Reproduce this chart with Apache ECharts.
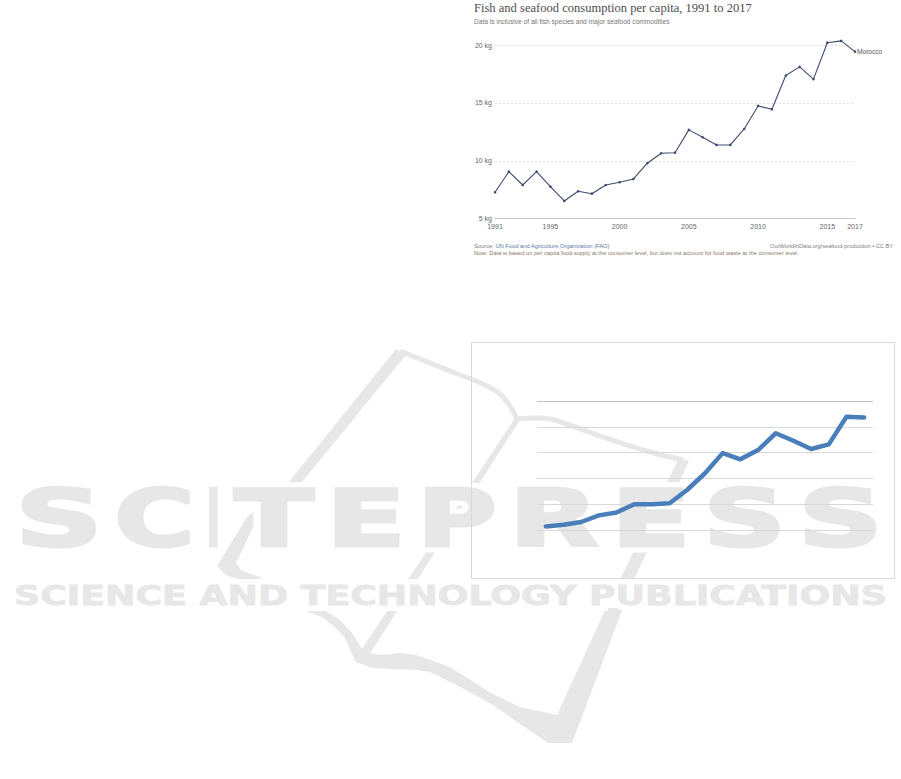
<!DOCTYPE html>
<html>
<head>
<meta charset="utf-8">
<script src="https://cdn.jsdelivr.net/npm/echarts@6/dist/echarts.min.js"></script>
<style>html,body{margin:0;padding:0;background:#fff}#c{width:901px;height:779px}</style>
</head>
<body>
<div id="c"></div>
<script>
// ---------- data: top chart (Our World in Data) ----------
const years = [1991,1992,1993,1994,1995,1996,1997,1998,1999,2000,2001,2002,2003,2004,2005,2006,2007,2008,2009,2010,2011,2012,2013,2014,2015,2016,2017];
const fishKg = [7.28,9.06,7.91,9.06,7.77,6.53,7.37,7.16,7.91,8.15,8.43,9.79,10.65,10.7,12.67,12.03,11.37,11.37,12.75,14.74,14.45,17.36,18.11,17.05,20.2,20.36,19.43];
const yTickKg = [5,10,15,20];
const xTickYears = [1991,1995,2000,2005,2010,2015,2017];
const countryName = 'Morocco';
const titleText = 'Fish and seafood consumption per capita, 1991 to 2017';
const subtitleText = 'Data is inclusive of all fish species and major seafood commodities';
const sourceLabel = 'Source: ';
const sourceText = 'UN Food and Agriculture Organization (FAO)';
const noteText = 'Note: Data is based on per capita food supply at the consumer level, but does not account for food waste at the consumer level.';
const urlText = 'OurWorldInData.org/seafood-production • CC BY';

// ---------- data: bottom chart (unlabelled spreadsheet chart) ----------
const sheetCats = ['1999','2000','2001','2002','2003','2004','2005','2006','2007','2008','2009','2010','2011','2012','2013','2014','2015','2016','2017'];
const sheetVals = [0.7,1.0,1.55,2.83,3.4,5.0,5.0,5.2,7.8,11.0,14.9,13.7,15.5,18.75,17.3,15.7,16.6,21.96,21.8];
const sheetTicks = [0,5,10,15,20,25];

// ---------- watermark text ----------
const wmWord = ['S','C','I','T','E','P','R','E','S','S'];
const wmSub = 'SCIENCE AND TECHNOLOGY PUBLICATIONS';

// ---------- helpers ----------
const mctx = document.createElement('canvas').getContext('2d');
function textW(t, font){ mctx.font = font; return mctx.measureText(t).width; }
function fitSize(t, family, weight, target){ return 100 * target / textW(t, weight + ' 100px ' + family); }

const SANS = '"Liberation Sans", Arial, sans-serif';
const SERIF = '"Liberation Serif", "Times New Roman", serif';
const titleSize = fitSize(titleText, SERIF, 'normal', 278);
const subSize = fitSize(subtitleText, SANS, 'normal', 196);
const srcSize = fitSize(sourceLabel + sourceText, SANS, 'normal', 136);
const noteSize = fitSize(noteText, SANS, 'normal', 325);
const urlSize = fitSize(urlText, SANS, 'normal', 123);

// ---------- watermark graphics ----------
const WM = '#e6e7e6';
const wm = [];
// logo strokes
wm.push({type:'polygon', z:-10, shape:{points:[[396,349],[406,355],[302,482],[258,517],[236,563],[242,571],[260,577],[262,580],[240,580],[226,575],[217,566],[247,517],[289,482]]}, style:{fill:WM}});
wm.push({type:'polyline', z:-10, shape:{points:[[400,351],[450,371],[483,384],[500,394],[510,406],[517,419]], smooth:0.3}, style:{stroke:WM, lineWidth:5, fill:null}});
wm.push({type:'polyline', z:-10, shape:{points:[[517,419],[550,419],[600,436],[650,452],[683,460]], smooth:0.3}, style:{stroke:WM, lineWidth:5, fill:null}});
wm.push({type:'polygon', z:-10, shape:{points:[[679,458],[689,461],[633,582],[619,582]]}, style:{fill:WM}});
wm.push({type:'polygon', z:-10, shape:{points:[[515,418],[520,420],[369,655],[360,652]]}, style:{fill:WM}});
wm.push({type:'polygon', z:-10, shape:{points:[[306,611],[326,611],[340,620],[352,633],[364,652],[380,655],[400,653],[416,655],[450,667],[491,693],[520,707],[557,715],[606,608],[623,608],[572,743],[548,743],[520,724],[491,704],[462,688],[430,672],[416,670],[395,669],[372,668],[356,662],[350,650],[345,638],[335,627],[322,617]]}, style:{fill:WM}});

// big letters
const wmPos = [[14,104],[113,196],[205,222],[233,315],[325,407],[416,498],[508,600],[610,692],[702,787],[797,884]];
const bigFont = 'bold 78px "DejaVu Sans"';
wmWord.forEach((ch, i) => {
  const [x0, x1] = wmPos[i];
  const sx = (x1 - x0 - 3) / textW(ch, bigFont);
  wm.push({type:'text', z:-9, x:x0 + 1.5, y:519, scaleX:sx, style:{text:ch, font:bigFont, fill:'#fff', stroke:'#fff', lineWidth:13, align:'left', verticalAlign:'middle'}});
  wm.push({type:'text', z:-8, x:x0 + 1.5, y:519, scaleX:sx, style:{text:ch, font:bigFont, fill:WM, stroke:WM, lineWidth:3.2, lineJoin:'miter', align:'left', verticalAlign:'middle'}});
});
// small line
const smallFont = 'bold 26px "DejaVu Sans"';
const ssx = (887 - 14) / textW(wmSub, smallFont);
wm.push({type:'text', z:-9, x:14, y:596, scaleX:ssx, style:{text:wmSub, font:smallFont, fill:'#fff', stroke:'#fff', lineWidth:12, align:'left', verticalAlign:'middle'}});
wm.push({type:'text', z:-8, x:14, y:596, scaleX:ssx, style:{text:wmSub, font:smallFont, fill:WM, stroke:WM, lineWidth:0.8, align:'left', verticalAlign:'middle'}});

// bottom chart frame
wm.push({type:'rect', z:1, shape:{x:471.5, y:342.5, width:423, height:236}, style:{fill:null, stroke:'#d9d9d9', lineWidth:1}});

const chart = echarts.init(document.getElementById('c'), null, {renderer:'svg'});
chart.setOption({
  animation: false,
  backgroundColor: '#fff',
  title: [
    {text: titleText, subtext: subtitleText, left: 474, top: 1, padding: 0, itemGap: 2.5,
     textStyle: {fontFamily: SERIF, fontWeight: 'normal', fontSize: titleSize, color: '#4d4d4d', lineHeight: 14},
     subtextStyle: {fontFamily: SANS, fontSize: subSize, color: '#777', lineHeight: 7}},
    {text: '{a|' + sourceLabel + '}{b|' + sourceText + '}', left: 474, top: 242.5, padding: 0,
     textStyle: {fontWeight: 'normal', rich: {
       a: {fontFamily: SANS, fontSize: srcSize, fontWeight: 'normal', color: '#808080', lineHeight: 7},
       b: {fontFamily: SANS, fontSize: srcSize, fontWeight: 'normal', color: '#5b7aa3', lineHeight: 7}}}},
    {text: noteText, left: 474, top: 249.8, padding: 0,
     textStyle: {fontFamily: SANS, fontSize: noteSize, fontWeight: 'normal', color: '#8a7868', lineHeight: 7}},
    {text: urlText, right: 8, top: 242.5, padding: 0,
     textStyle: {fontFamily: SANS, fontSize: urlSize, fontWeight: 'normal', color: '#808080', lineHeight: 7}}
  ],
  graphic: {elements: wm},
  grid: [
    {left: 495, right: 46, top: 45, height: 173.7, containLabel: false},
    {left: 537, right: 28, top: 401, height: 129, containLabel: false}
  ],
  xAxis: [
    {gridIndex: 0, type: 'value', min: years[0], max: years[years.length - 1],
     axisLine: {show: true, lineStyle: {color: '#c8c8c8', width: 1}},
     axisTick: {show: false},
     splitLine: {show: false},
     axisLabel: {customValues: xTickYears, formatter: v => String(v), fontFamily: SANS, fontSize: 7, color: '#666', margin: 4}},
    {gridIndex: 1, type: 'category', data: sheetCats, boundaryGap: true,
     axisLine: {show: false}, axisTick: {show: false}, axisLabel: {show: false}, splitLine: {show: false}}
  ],
  yAxis: [
    {gridIndex: 0, type: 'value', min: yTickKg[0], max: yTickKg[yTickKg.length - 1], interval: 5,
     axisLine: {show: false}, axisTick: {show: false},
     axisLabel: {formatter: v => v + ' kg', fontFamily: SANS, fontSize: 7, color: '#666', margin: 3},
     splitLine: {show: true, lineStyle: {color: '#d4d4d4', width: 0.8, type: [2, 2]}}},
    {gridIndex: 1, type: 'value', min: sheetTicks[0], max: sheetTicks[sheetTicks.length - 1], interval: 5,
     axisLine: {show: false}, axisTick: {show: false}, axisLabel: {show: false},
     splitLine: {show: true, lineStyle: {color: ['#d9d9d9','#d9d9d9','#d9d9d9','#d9d9d9','#d9d9d9','#bfbfbf'], width: 1.2}}}
  ],
  series: [
    {name: countryName, type: 'line', xAxisIndex: 0, yAxisIndex: 0,
     data: years.map((y, i) => [y, fishKg[i]]), clip: false,
     symbol: 'circle', symbolSize: 2.6, showSymbol: true,
     lineStyle: {color: '#3f4b6e', width: 1.1},
     itemStyle: {color: '#3f4b6e'},
     endLabel: {show: true, formatter: countryName, fontFamily: SANS, fontSize: 6.6, color: '#555', distance: 2},
     z: 3},
    {name: 'sheet', type: 'line', xAxisIndex: 1, yAxisIndex: 1, data: sheetVals,
     symbol: 'none', smooth: false,
     lineStyle: {color: '#4a7ebb', width: 4.5, cap: 'round', join: 'round'},
     z: 3}
  ]
});
</script>
</body>
</html>
